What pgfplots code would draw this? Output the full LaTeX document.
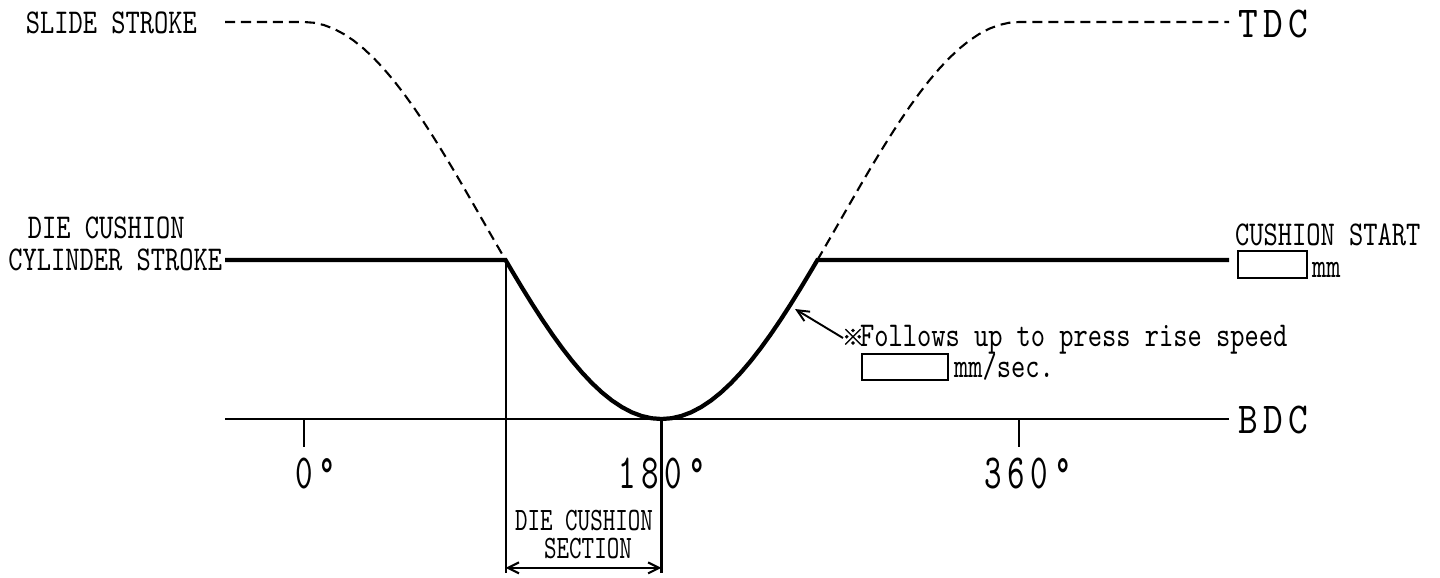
\documentclass[border=0pt]{standalone}
\usepackage{pgfplots}
\pgfplotsset{compat=1.18}
\usepackage{fontspec}
\usetikzlibrary{arrows.meta}
% condensed typewriter faces in the style of a CAD drawing
\newfontfamily\cad[FakeStretch=0.78]{lmmono10-regular.otf}
\newfontfamily\cadsmall[FakeStretch=0.73]{lmmono10-regular.otf}
\newfontfamily\cadbig[FakeStretch=0.85,LetterSpace=12]{lmmono10-regular.otf}
\newfontfamily\cadnum[FakeStretch=0.68,LetterSpace=12]{lmmono10-regular.otf}
\newfontfamily\cjk[FakeBold=1.5]{Noto Sans CJK JP}

\begin{document}
\begin{tikzpicture}
\useasboundingbox (0,0) rectangle (144mm,-57.7mm);
\begin{axis}[
    at={(22.5mm,-41.9mm)}, anchor=south west,
    scale only axis, width=100.4mm, height=39.7mm,
    xmin=-39.8, xmax=465.8, ymin=0, ymax=1,
    hide axis, clip=false]
  % slide stroke (dashed), crank angle vs. stroke fraction
  \addplot[black, line width=0.6pt, dash pattern=on 2.85pt off 1.7pt] coordinates {
    (-39.8,1) (0,1) (5,0.9981) (10,0.9924) (15,0.9830) (20,0.9698) (25,0.9532)
    (30,0.9330) (35,0.9096) (40,0.8830) (45,0.8536) (50,0.8214) (55,0.7868)
    (60,0.75) (65,0.7113) (70,0.6710) (75,0.6294) (80,0.5868) (85,0.5436)
    (90,0.5) (95,0.4564) (100,0.4132) (101.5,0.4003)};
  \addplot[black, line width=0.6pt, dash pattern=on 2.85pt off 1.7pt] coordinates {
    (258.5,0.4003) (260,0.4132) (265,0.4564) (270,0.5) (275,0.5436) (280,0.5868)
    (285,0.6294) (290,0.6710) (295,0.7113) (300,0.75) (305,0.7868) (310,0.8214)
    (315,0.8536) (320,0.8830) (325,0.9096) (330,0.9330) (335,0.9532) (340,0.9698)
    (345,0.9830) (350,0.9924) (355,0.9981) (360,1) (465.8,1)};
  % die cushion cylinder stroke
  \addplot[black, line width=1.2pt] coordinates {
    (-39.8,0.4003) (101.5,0.4003) (105,0.3706) (110,0.3290) (115,0.2887)
    (120,0.25) (125,0.2132) (130,0.1786) (135,0.1464) (140,0.1170) (145,0.0904)
    (150,0.0670) (155,0.0468) (160,0.0302) (165,0.0170) (170,0.0076) (175,0.0019)
    (180,0) (185,0.0019) (190,0.0076) (195,0.0170) (200,0.0302) (205,0.0468)
    (210,0.0670) (215,0.0904) (220,0.1170) (225,0.1464) (230,0.1786) (235,0.2132)
    (240,0.25) (245,0.2887) (250,0.3290) (255,0.3706) (258.5,0.4003) (465.8,0.4003)};
  % BDC line
  \addplot[black, line width=0.6pt] coordinates {(-39.8,0) (465.8,0)};

  \draw[line width=0.6pt] (axis cs:0,0) -- (axis cs:0,-0.0705);
  \draw[line width=0.6pt] (axis cs:360,0) -- (axis cs:360,-0.0705);
  \draw[line width=0.6pt] (axis cs:180,0) -- (axis cs:180,-0.388);
  \draw[line width=0.6pt] (axis cs:101.5,0.4003) -- (axis cs:101.5,-0.388);
  \draw[line width=0.6pt, {Straight Barb[length=1.1mm,width=1.1mm]}-{Straight Barb[length=1.1mm,width=1.1mm]}]
    (axis cs:101.5,-0.375) -- (axis cs:180,-0.375);
\end{axis}

\begin{scope}[x=0.1mm, y=-0.1mm, every node/.style={inner sep=0pt, outer sep=0pt}]
  \node[anchor=base west] at (26,33) {\cad\fontsize{9.9pt}{10pt}\selectfont SLIDE STROKE};
  \node[anchor=base west] at (28,238) {\cad\fontsize{9.9pt}{10pt}\selectfont DIE CUSHION};
  \node[anchor=base east] at (222,270) {\cad\fontsize{9.9pt}{10pt}\selectfont CYLINDER STROKE};
  \node[anchor=base west] at (1238,37) {\cadbig\fontsize{12.57pt}{13pt}\selectfont TDC};
  \node[anchor=base west] at (1238,433) {\cadbig\fontsize{12.57pt}{13pt}\selectfont BDC};
  \node[anchor=base west] at (1235,245) {\cad\fontsize{9.9pt}{10pt}\selectfont CUSHION START};
  \draw[line width=0.55pt] (1238,251) rectangle (1307,278);
  \node[anchor=base west] at (1312,277) {\cad\fontsize{9.9pt}{10pt}\selectfont mm};

  \draw[line width=0.55pt, -{Straight Barb[length=1.2mm,width=1.1mm]}] (843,338) -- (795,309);
  \node at (853,337) {\cjk\fontsize{6.2pt}{6.5pt}\selectfont ※};
  \node[anchor=base west] at (860,346) {\cad\fontsize{9.9pt}{10pt}\selectfont Follows up to press rise speed};
  \draw[line width=0.55pt] (862,354) rectangle (948,380);
  \node[anchor=base west] at (954,377) {\cad\fontsize{9.9pt}{10pt}\selectfont mm/sec.};

  \node[anchor=base west] at (295,488) {\cadnum\fontsize{13.96pt}{14pt}\selectfont 0°};
  \node[anchor=base west] at (618,488) {\cadnum\fontsize{13.96pt}{14pt}\selectfont 180°};
  \node[anchor=base west] at (984,488) {\cadnum\fontsize{13.96pt}{14pt}\selectfont 360°};

  \node[anchor=base] at (584,530) {\cadsmall\fontsize{9.3pt}{10pt}\selectfont DIE CUSHION};
  \node[anchor=base] at (588,558) {\cadsmall\fontsize{9.3pt}{10pt}\selectfont SECTION};
\end{scope}
\end{tikzpicture}
\end{document}
